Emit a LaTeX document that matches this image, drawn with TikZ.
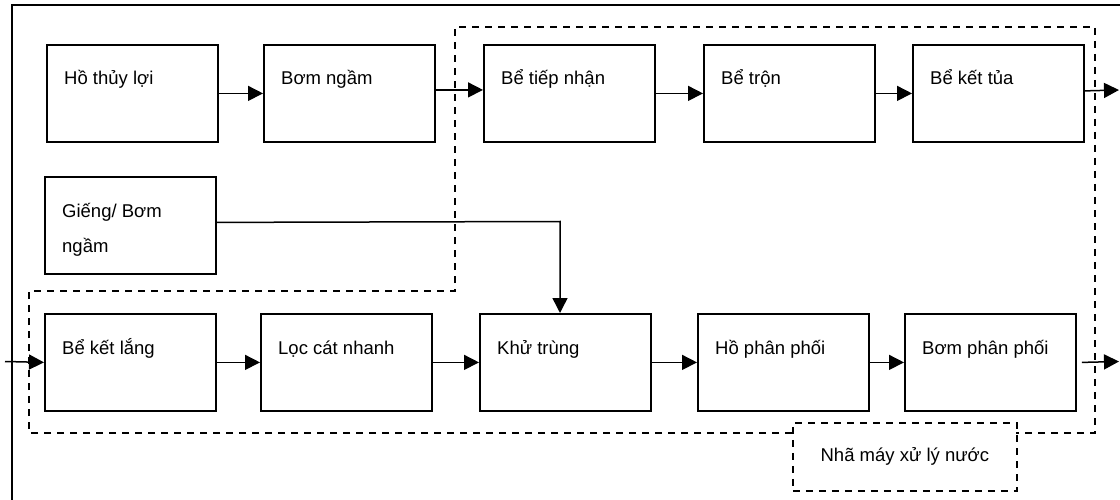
\documentclass[tikz,border=0pt]{standalone}
\usepackage{fontspec}
\setmainfont{Liberation Sans}
\usetikzlibrary{arrows.meta}
\newcommand{\boxfont}{\fontsize{18.5}{35}\selectfont}
\begin{document}
\begin{tikzpicture}[x=1pt,y=-1pt,
  stage/.style={draw,line width=1.8pt,minimum width=171pt,minimum height=97pt,
    inner sep=0pt,anchor=north west},
  caption/.style={anchor=base west,inner sep=0pt,font=\boxfont,align=left},
  arr/.style={line width=1.5pt,-{Triangle[length=15pt,width=15pt]}},
  zone/.style={line width=1.7pt,dash pattern=on 7pt off 6pt},
  frame/.style={line width=1.8pt}]
\useasboundingbox (0,0) rectangle (1120,500);

% outer frame (open on the right and at the bottom)
\draw[frame] (1120,5) -- (12,5) -- (12,500);

% treatment plant outline
\draw[zone] (792,433) -- (29,433) -- (29,291) -- (455,291) -- (455,27)
  -- (1095,27) -- (1095,433) -- (1016,433);
\node[draw,zone,minimum width=224pt,minimum height=68pt,inner sep=0pt,
  anchor=north west,font=\boxfont] (plant) at (792,422) {Nhã máy xử lý nước};

% top row
\node[stage] (a1) at (46,44) {};
\node[stage] (a2) at (263,44) {};
\node[stage] (a3) at (483,44) {};
\node[stage] (a4) at (703,44) {};
\node[stage] (a5) at (912,44) {};
% well
\node[stage] (g) at (44,176) {};
% bottom row
\node[stage] (b1) at (44,313) {};
\node[stage] (b2) at (260,313) {};
\node[stage] (b3) at (479,313) {};
\node[stage] (b4) at (697,313) {};
\node[stage] (b5) at (904,313) {};

% captions (base anchor sits on the last line)
\node[caption] (a1t) at ([shift={(18,41)}]a1.north west) {Hồ thủy lợi};
\node[caption] (a2t) at ([shift={(18,41)}]a2.north west) {Bơm ngầm};
\node[caption] (a3t) at ([shift={(18,41)}]a3.north west) {Bể tiếp nhận};
\node[caption] (a4t) at ([shift={(18,41)}]a4.north west) {Bể trộn};
\node[caption] (a5t) at ([shift={(18,41)}]a5.north west) {Bể kết tủa};
\node[caption] (gt)  at ([shift={(18,76)}]g.north west)  {Giếng/ Bơm\\ngầm};
\node[caption] (b1t) at ([shift={(18,41)}]b1.north west) {Bể kết lắng};
\node[caption] (b2t) at ([shift={(18,41)}]b2.north west) {Lọc cát nhanh};
\node[caption] (b3t) at ([shift={(18,41)}]b3.north west) {Khử trùng};
\node[caption] (b4t) at ([shift={(18,41)}]b4.north west) {Hồ phân phối};
\node[caption] (b5t) at ([shift={(18,41)}]b5.north west) {Bơm phân phối};

% free ends
\coordinate (o1) at (1119,90);
\coordinate (o2) at (1119,361.5);
\coordinate (in) at (5,361.5);
\coordinate (gturn) at (560,221.5);

% flow
\draw[arr] (a1.east) -- (a2.west);
\draw[arr] ([yshift=3.5pt]a2.east) -- ([yshift=3.5pt]a3.west);
\draw[arr] (a3.east) -- (a4.west);
\draw[arr] (a4.east) -- (a5.west);
\draw[arr] ([yshift=2.5pt]a5.east) -- (o1);
\draw[arr] (in) -- (b1.west);
\draw[arr] (b1.east) -- (b2.west);
\draw[arr] (b2.east) -- (b3.west);
\draw[arr] (b3.east) -- (b4.west);
\draw[arr] (b4.east) -- (b5.west);
\draw[arr] ([xshift=5pt]b5.east) -- (o2);
\draw[arr] ([yshift=3pt]g.east) -- (gturn) -- (gturn |- b3.north);
\end{tikzpicture}
\end{document}
